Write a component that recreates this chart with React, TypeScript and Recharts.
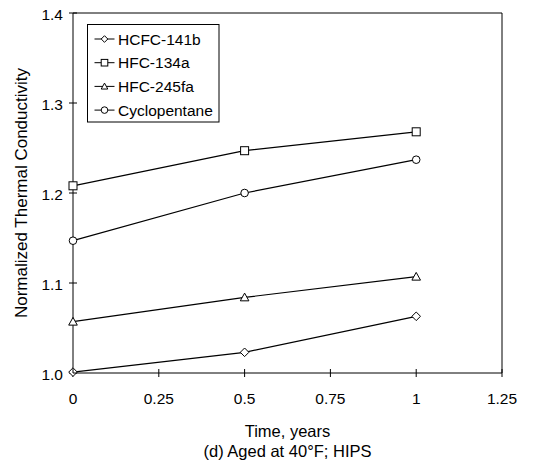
import { Label, Line, LineChart, ReferenceLine, XAxis, YAxis } from 'recharts'

const years = [0, 0.5, 1]
const hcfc141b = [1.001, 1.023, 1.063]
const hfc134a = [1.208, 1.247, 1.268]
const hfc245fa = [1.057, 1.084, 1.107]
const cyclopentane = [1.147, 1.2, 1.237]

const xTicks = [0, 0.25, 0.5, 0.75, 1, 1.25]
const yTicks = [1.0, 1.1, 1.2, 1.3, 1.4]

const rows = years.map((x, i) => ({
  x,
  hcfc141b: hcfc141b[i],
  hfc134a: hfc134a[i],
  hfc245fa: hfc245fa[i],
  cyclopentane: cyclopentane[i],
}))

const FONT = '"Liberation Sans", Arial, sans-serif'
const TICK = 4
const Y_MARGIN = 6
const X_MARGIN = 16

function Diamond({ cx, cy, r = 4.3 }: { cx: number; cy: number; r?: number }) {
  return <path d={`M${cx},${cy - r}L${cx + r},${cy}L${cx},${cy + r}L${cx - r},${cy}Z`} fill="#fff" stroke="#000" />
}
function Square({ cx, cy, r = 4 }: { cx: number; cy: number; r?: number }) {
  return <rect x={cx - r} y={cy - r} width={r * 2} height={r * 2} fill="#fff" stroke="#000" />
}
function Triangle({ cx, cy, r = 4.3 }: { cx: number; cy: number; r?: number }) {
  return <path d={`M${cx},${cy - r}L${cx + r},${cy + r * 0.8}L${cx - r},${cy + r * 0.8}Z`} fill="#fff" stroke="#000" />
}
function Circle({ cx, cy, r = 3.8 }: { cx: number; cy: number; r?: number }) {
  return <circle cx={cx} cy={cy} r={r} fill="#fff" stroke="#000" />
}

const series = [
  { key: 'hcfc141b', name: 'HCFC-141b', Mark: Diamond },
  { key: 'hfc134a', name: 'HFC-134a', Mark: Square },
  { key: 'hfc245fa', name: 'HFC-245fa', Mark: Triangle },
  { key: 'cyclopentane', name: 'Cyclopentane', Mark: Circle },
]

function YTick({ x, y, payload }: any) {
  const ax = x + Y_MARGIN + TICK
  return (
    <g>
      <line x1={ax} x2={ax + TICK} y1={y} y2={y} stroke="#000" />
      <text x={x} y={y} dy={7} textAnchor="end" fontSize={15.5} fontFamily={FONT} fill="#000">
        {Number(payload.value).toFixed(1)}
      </text>
    </g>
  )
}

function XTick({ x, y, payload }: any) {
  const ay = y - X_MARGIN - TICK
  return (
    <g>
      <line x1={x} x2={x} y1={ay} y2={ay - TICK} stroke="#000" />
      <text x={x} y={y} dy="0.71em" textAnchor="middle" fontSize={15.5} fontFamily={FONT} fill="#000">
        {payload.value}
      </text>
    </g>
  )
}

function LegendBox() {
  return (
    <svg width={133} height={99} style={{ position: 'absolute', left: 87, top: 24 }}>
      <rect x={0.5} y={0.5} width={131.5} height={97.5} fill="#fff" stroke="#000" />
      {series.map((s, i) => {
        const cy = 15 + i * 23.7
        return (
          <g key={s.key}>
            <line x1={7.5} x2={27.5} y1={cy} y2={cy} stroke="#000" />
            <s.Mark cx={17.5} cy={cy} r={3.3} />
            <text x={31} y={cy} dy="0.36em" fontSize={15.5} fontFamily={FONT} fill="#000">
              {s.name}
            </text>
          </g>
        )
      })}
    </svg>
  )
}

export default function App() {
  return (
    <div style={{ position: 'absolute', left: 0, top: 0, width: 545, height: 467, background: '#fff' }}>
      <LineChart width={545} height={467} data={rows} margin={{ top: 13, right: 43, bottom: 0, left: 0 }}>
        <XAxis
          dataKey="x"
          type="number"
          domain={[0, 1.25]}
          ticks={xTicks}
          height={94}
          tickSize={TICK}
          tickMargin={X_MARGIN}
          tick={<XTick />}
          axisLine={{ stroke: '#000' }}
          tickLine={{ stroke: '#000' }}
        >
          <Label
            content={({ viewBox }: any) => {
              const cx = viewBox.x + viewBox.width / 2
              return (
                <g fontFamily={FONT} fontSize={16.5} fill="#000" textAnchor="middle">
                  <text x={cx} y={437}>Time, years</text>
                  <text x={cx} y={457}>(d) Aged at 40°F; HIPS</text>
                </g>
              )
            }}
          />
        </XAxis>
        <YAxis
          type="number"
          domain={[1, 1.4]}
          ticks={yTicks}
          width={73}
          tickSize={TICK}
          tickMargin={Y_MARGIN}
          tick={<YTick />}
          axisLine={{ stroke: '#000' }}
          tickLine={{ stroke: '#000' }}
        >
          <Label
            content={({ viewBox }: any) => {
              const cy = viewBox.y + viewBox.height / 2
              return (
                <text
                  x={27}
                  y={cy}
                  transform={`rotate(-90 27 ${cy})`}
                  textAnchor="middle"
                  fontFamily={FONT}
                  fontSize={17}
                  fill="#000"
                >
                  Normalized Thermal Conductivity
                </text>
              )
            }}
          />
        </YAxis>
        <ReferenceLine y={1.4} stroke="#000" />
        <ReferenceLine x={1.25} stroke="#000" />
        {series.map((s) => (
          <Line
            key={s.key}
            dataKey={s.key}
            name={s.name}
            type="linear"
            stroke="#000"
            strokeWidth={1.2}
            isAnimationActive={false}
            dot={(p: any) => <s.Mark key={`${s.key}-${p.index}`} cx={p.cx} cy={p.cy} />}
            activeDot={false}
          />
        ))}
      </LineChart>
      <LegendBox />
    </div>
  )
}
